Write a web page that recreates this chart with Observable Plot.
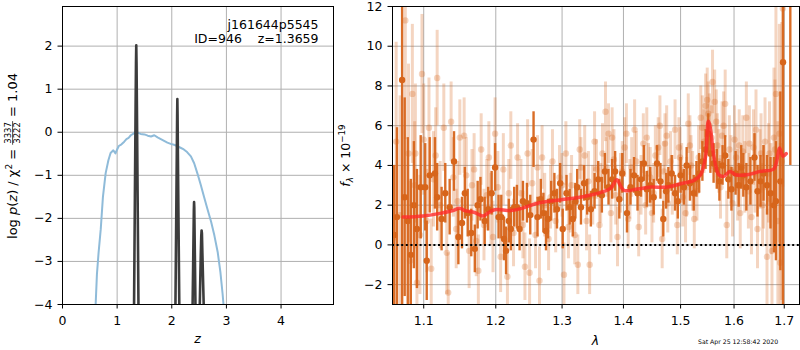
<!DOCTYPE html>
<html><head><meta charset="utf-8">
<script src="https://cdn.jsdelivr.net/npm/d3@7"></script>
<script src="https://cdn.jsdelivr.net/npm/@observablehq/plot@0.6"></script>
<style>
body{margin:0;background:#fff;}
#wrap{position:relative;width:800px;height:350px;overflow:hidden;background:#fff;}
#wrap svg{position:absolute;top:0;}
</style></head><body><div id="wrap"></div>
<script>
// ---------- left panel: redshift probability ----------
const zTicks = [0, 1, 2, 3, 4];
const logpTicks = [-4, -3, -2, -1, 0, 1, 2];
const curveZ = [0.60,0.63,0.66,0.70,0.74,0.79,0.84,0.88,0.93,0.97,1.00,1.03,1.08,1.13,1.17,1.21,1.25,1.30,1.34,1.38,1.43,1.50,1.56,1.62,1.68,1.74,1.80,1.86,1.92,1.98,2.04,2.10,2.16,2.22,2.28,2.35,2.41,2.47,2.53,2.59,2.65,2.72,2.78,2.84,2.89,2.93,2.96];
const curveV = [-4.2,-3.3,-2.8,-2.25,-1.5,-0.95,-0.65,-0.48,-0.42,-0.49,-0.40,-0.32,-0.28,-0.22,-0.16,-0.13,-0.07,-0.03,0.02,-0.01,-0.04,-0.05,-0.08,-0.10,-0.07,-0.12,-0.16,-0.20,-0.24,-0.27,-0.29,-0.32,-0.36,-0.40,-0.46,-0.56,-0.72,-0.96,-1.22,-1.50,-1.77,-2.08,-2.40,-2.78,-3.25,-3.75,-4.2];
const spike1Z = [1.308,1.325,1.338,1.345,1.350,1.355,1.362,1.375,1.392];
const spike1V = [-4.3,-1.5,0.6,1.6,2.02,1.6,0.6,-1.5,-4.3];
const spike2Z = [2.065,2.080,2.092,2.098,2.102,2.106,2.112,2.124,2.140];
const spike2V = [-4.3,-2.2,-0.5,0.4,0.77,0.4,-0.5,-2.2,-4.3];
const spike3Z = [2.378,2.390,2.398,2.404,2.408,2.412,2.418,2.426,2.436];
const spike3V = [-4.3,-3.2,-2.4,-1.8,-1.62,-1.75,-2.4,-3.2,-4.3];
const spike4Z = [2.508,2.522,2.532,2.540,2.546,2.552,2.560,2.572,2.590];
const spike4V = [-4.3,-3.4,-2.8,-2.4,-2.28,-2.35,-2.8,-3.4,-4.3];
const objName = "j161644p5545";
const objId = "946";
const zBest = "1.3659";
const chiNum = "3337", chiDen = "3222", chiRatio = "1.04";

// ---------- right panel: spectrum ----------
const lamTicks = [1.1, 1.2, 1.3, 1.4, 1.5, 1.6, 1.7];
const fluxTicks = [-2, 0, 2, 4, 6, 8, 10, 12];
const darkLam = [1.0615,1.0650,1.0717,1.0750,1.0790,1.0830,1.0870,1.0910,1.0960,1.1020,
  1.1040,1.1080,1.1150,1.1180,1.1240,1.1290,1.1350,1.1410,1.1470,1.1520,
  1.1560,1.1600,1.1650,1.1700,1.1740,1.1780,1.1840,1.1890,1.1940,1.1990,
  1.2040,1.2080,1.2120,1.2150,1.2190,1.2220,1.2270,1.2310,1.2350,1.2400,
  1.2460,1.2510,1.2560,1.2620,1.2670,1.2710,1.2750,1.2780,1.2830,1.2880,
  1.2920,1.2970,1.3010,1.3070,1.3120,1.3170,1.3210,1.3240,1.3300,1.3350,
  1.3400,1.3460,1.3520,1.3580,1.3640,1.3690,1.3750,1.3810,1.3860,1.3930,
  1.3980,1.4060,1.4120,1.4180,1.4240,1.4300,1.4350,1.4400,1.4460,1.4520,
  1.4580,1.4640,1.4690,1.4740,1.4780,1.4840,1.4900,1.4950,1.5000,1.5060,
  1.5110,1.5170,1.5240,1.5290,1.5340,1.5400,1.5460,1.5510,1.5550,1.5610,
  1.5670,1.5720,1.5780,1.5830,1.5890,1.5950,1.6030,1.6090,1.6140,1.6180,
  1.6240,1.6320,1.6400,1.6460,1.6520,1.6580,1.6650,1.6720,1.6790,1.6830,
  1.6920,1.6975,1.7125];
const darkFlux = [0.5,1.4,8.3,2.4,1.2,-0.5,2.0,0.8,2.9,2.9,
  -0.8,3.5,3.6,2.4,1.3,2.6,1.9,4.2,0.4,1.1,
  2.6,1.6,0.6,-0.2,2.0,2.3,1.2,1.8,2.6,3.9,
  1.4,1.4,0.3,-0.3,1.2,0.8,1.9,1.9,0.8,2.2,
  2.1,1.5,5.3,1.4,2.3,1.6,0.7,1.3,2.2,2.6,
  1.8,3.1,0.8,2.6,1.9,1.3,2.2,2.9,1.9,3.1,
  2.4,1.8,2.7,3.3,2.5,3.7,2.9,3.3,3.7,2.3,
  3.6,1.6,2.9,3.5,2.6,3.3,4.1,2.8,3.0,2.4,
  4.1,3.2,1.3,2.7,3.0,3.6,2.6,2.2,3.5,2.9,
  4.0,3.1,2.6,3.3,3.6,4.2,4.8,5.6,4.6,4.1,
  3.8,3.2,4.0,4.5,3.3,2.8,3.6,3.0,3.9,3.5,
  2.9,3.2,4.4,2.7,3.2,3.6,3.0,2.6,2.0,2.2,
  3.2,9.2,16];
const darkErr = [3.5,4.5,12,5.0,4.2,3.8,3.2,3.0,2.6,2.2,
  2.0,1.9,1.8,1.7,1.6,1.5,1.4,1.5,1.4,1.3,
  1.3,1.2,1.2,1.2,1.2,1.1,1.2,1.1,1.1,1.2,
  1.1,1.1,1.1,1.2,1.1,1.1,1.0,1.1,1.1,1.0,
  1.0,1.0,1.4,1.0,1.0,1.0,1.0,1.0,1.0,1.0,
  1.0,1.0,1.0,0.9,0.9,0.9,0.9,0.9,0.9,0.9,
  0.9,0.9,0.9,0.9,0.9,0.9,0.9,1.0,1.0,1.0,
  1.0,1.0,0.9,0.9,0.9,0.9,0.9,0.9,0.9,0.9,
  0.9,0.9,0.9,0.9,0.9,0.9,0.9,0.9,0.9,0.9,
  0.9,0.9,0.9,0.9,1.0,1.0,1.0,1.0,1.0,1.0,
  1.0,1.0,1.0,1.0,1.0,1.1,1.1,1.1,1.1,1.1,
  1.2,1.2,1.2,1.3,1.3,1.4,1.5,1.8,2.4,3.0,
  4.5,13,12];
const lightLam = [1.0640,1.0690,1.0758,1.0800,1.0820,1.0850,1.0890,1.0910,1.0950,1.0977,1.1000,1.1040,1.1070,1.1100,1.1130,1.1180,1.1220,1.1270,1.1310,1.1330,1.1370,1.1400,1.1440,1.1490,1.1550,1.1580,1.1620,1.1660,1.1720,1.1750,1.1790,1.1830,1.1870,1.1900,1.1960,1.1990,1.2030,1.2070,1.2110,1.2170,1.2220,1.2260,1.2320,1.2370,1.2430,1.2470,1.2500,1.2540,1.2590,1.2650,1.2690,1.2730,1.2790,1.2850,1.2900,1.2960,1.3030,1.3060,1.3100,1.3150,1.3200,1.3250,1.3300,1.3360,1.3390,1.3440,1.3490,1.3550,1.3600,1.3650,1.3700,1.3750,1.3790,1.3840,1.3900,1.3950,1.4020,1.4080,1.4140,1.4190,1.4260,1.4340,1.4380,1.4430,1.4490,1.4550,1.4630,1.4670,1.4720,1.4770,1.4820,1.4900,1.4940,1.4990,1.5040,1.5090,1.5140,1.5190,1.5250,1.5300,1.5370,1.5430,1.5460,1.5490,1.5530,1.5590,1.5630,1.5680,1.5740,1.5800,1.5830,1.5860,1.5910,1.5970,1.6010,1.6070,1.6120,1.6170,1.6240,1.6280,1.6340,1.6380,1.6430,1.6460,1.6510,1.6560,1.6610,1.6650,1.6700,1.6750,1.6790,1.6830,1.6870,1.6920,1.6950,1.6970];
const lightFlux = [5.2,1.5,11.3,4.6,-0.8,7.6,4.6,-1.9,0.5,8.6,5.3,1.2,5.9,-1.2,3.3,8.4,2.0,5.9,-0.4,-2.4,6.2,3.4,0.8,5.4,5.5,3.5,-0.3,3.0,0.2,-1.3,4.8,1.0,2.5,4.4,0.4,5.6,2.9,-0.6,3.8,-1.6,5.0,0.6,4.4,2.6,-1.1,4.6,-1.4,3.1,0.5,-1.8,4.4,2.0,0.3,4.2,1.2,3.4,-1.5,4.6,0.9,3.0,0.5,-1.0,3.9,4.5,1.2,-1.0,2.5,3.8,1.0,4.6,6.7,5.6,1.6,4.3,0.4,3.1,4.9,1.3,3.9,5.8,0.9,5.1,2.0,3.6,1.6,4.5,6.0,0.3,5.1,2.1,4.2,5.8,1.0,4.4,2.4,1.6,6.1,4.0,1.3,2.7,6.4,5.2,7.0,7.3,6.0,8.2,7.2,5.0,2.9,6.0,7.1,1.0,4.8,2.1,5.3,3.0,1.6,4.7,6.4,2.7,1.4,4.9,5.8,0.8,3.8,2.0,5.2,-0.6,4.6,-0.3,5.4,7.6,1.2,-0.9,4.2,11.9];
const lightErr = [5,6,6,4.5,4,3.5,3.5,3.2,3.0,3.0,2.8,2.6,2.5,2.5,2.4,2.4,2.2,2.2,2.1,2.0,2.0,2.0,2.0,1.9,1.9,1.9,1.9,1.8,1.8,1.8,1.8,1.8,1.8,1.8,1.8,1.8,1.8,1.8,1.8,1.8,1.7,1.7,1.7,1.7,1.7,1.7,1.7,1.7,1.7,1.7,1.6,1.6,1.6,1.6,1.6,1.6,1.6,1.6,1.6,1.5,1.5,1.5,1.5,1.5,1.5,1.5,1.5,1.5,1.5,1.5,1.5,1.5,1.5,1.5,1.5,1.5,1.5,1.5,1.5,1.5,1.5,1.5,1.5,1.5,1.5,1.5,1.5,1.5,1.5,1.5,1.5,1.5,1.5,1.5,1.5,1.5,1.5,1.5,1.5,1.5,1.6,1.6,1.6,1.6,1.6,1.6,1.6,1.6,1.6,1.7,1.7,1.7,1.7,1.7,1.7,1.8,1.8,1.8,1.8,1.9,1.9,1.9,2.0,2.0,2.0,2.1,2.2,2.4,2.6,3,3.5,4.5,5,6,7,9];
const light2Lam = [1.0880,1.1160,1.1460,1.1690,1.1930,1.2190,1.2400,1.2620,1.2820,1.3000,1.3130,1.3280,1.3420,1.3520,1.3620,1.3720,1.3810,1.3870,1.3980,1.4050,1.4110,1.4220,1.4300,1.4400,1.4460,1.4520,1.4600,1.4700,1.4750,1.4850,1.4970,1.5020,1.5110,1.5170,1.5220,1.5330,1.5400,1.5510,1.5570,1.5660,1.5710,1.5770,1.5940,1.6040,1.6100,1.6210,1.6300,1.6410,1.6530,1.6580,1.6680,1.6730,1.6810,1.6900];
const light2Flux = [3.0,4.5,2.2,3.8,1.8,2.6,1.0,3.9,2.4,3.0,2.1,4.8,3.2,5.2,2.6,3.9,5.4,2.5,3.7,5.6,2.8,4.2,3.0,5.4,3.4,2.6,4.9,3.7,5.5,3.0,4.9,3.6,2.9,5.0,3.2,4.4,5.9,6.6,5.4,6.2,4.2,5.5,3.8,4.4,5.0,3.4,5.1,3.6,4.6,2.9,3.6,2.3,4.8,5.6];
const light2Err = [3.2,2.4,2.0,1.8,1.8,1.7,1.7,1.6,1.6,1.6,1.5,1.5,1.5,1.5,1.5,1.5,1.5,1.5,1.5,1.5,1.5,1.5,1.5,1.5,1.5,1.5,1.5,1.5,1.5,1.5,1.5,1.5,1.5,1.5,1.5,1.6,1.6,1.6,1.6,1.6,1.6,1.7,1.7,1.7,1.8,1.8,1.9,2.0,2.0,2.1,2.5,2.8,3.5,5.5];
const modelLam = [1.0730,1.0993,1.1237,1.1396,1.1487,1.1556,1.1697,1.1815,1.1886,1.1982,1.2224,1.2397,1.2623,1.2983,1.3352,1.3624,1.3789,1.3889,1.3956,1.4012,1.4240,1.4469,1.4762,1.5001,1.5244,1.5367,1.5460,1.5510,1.5553,1.5615,1.5710,1.5805,1.5920,1.6030,1.6256,1.6518,1.6784,1.6852,1.6904,1.6973,1.7041];
const modelFlux = [1.40,1.46,1.60,1.73,1.85,1.73,1.63,1.46,1.60,1.77,1.73,1.85,2.10,2.27,2.44,2.64,2.86,3.28,2.94,2.74,2.81,2.91,2.91,3.08,3.25,3.53,4.46,6.23,5.81,4.46,3.53,3.45,3.70,3.53,3.53,3.70,3.82,4.29,4.88,4.46,4.59];
const dateStr = "Sat Apr 25 12:58:42 2020";

// ---------- build ----------
const curve = curveZ.map((z, i) => ({z, v: curveV[i]}));
const spikes = [];
[[spike1Z, spike1V], [spike2Z, spike2V], [spike3Z, spike3V], [spike4Z, spike4V]].forEach(([zs, vs], k) =>
  zs.forEach((z, i) => spikes.push({peak: k, z, v: vs[i]})));
const dark = darkLam.map((lam, i) => ({lam, f: darkFlux[i], e: darkErr[i]}));
const light = lightLam.map((lam, i) => ({lam, f: lightFlux[i], e: lightErr[i]}))
  .concat(light2Lam.map((lam, i) => ({lam, f: light2Flux[i], e: light2Err[i]})));
const model = modelLam.map((lam, i) => ({lam, f: modelFlux[i]}));

const FONT = "DejaVu Sans";
const FS = 12.5, FSS = 8.75;
const style = {fontFamily: FONT, fontSize: FS + "px", color: "black", background: "transparent", overflow: "visible"};
const GRID = {stroke: "#b0b0b0", strokeOpacity: 1, strokeWidth: 1};
const ORANGE = "#d7651b";
const intFmt = d3.format("d");
const wrap = document.getElementById("wrap");

const left = Plot.plot({
  width: 340, height: 350, marginLeft: 62, marginRight: 7, marginTop: 6, marginBottom: 46,
  style,
  x: {domain: [0, 4.96], label: null},
  y: {domain: [-4, 2.92], label: null},
  marks: [
    Plot.gridX(zTicks, GRID),
    Plot.gridY(logpTicks, GRID),
    Plot.line(curve, {x: "z", y: "v", stroke: "#8fbbd9", strokeWidth: 2, clip: true}),
    Plot.line(spikes, {x: "z", y: "v", z: "peak", stroke: "#3c3c3c", strokeWidth: 2.6, clip: true}),
    Plot.frame({stroke: "black", strokeWidth: 1}),
    Plot.axisX({ticks: zTicks, tickFormat: intFmt, tickSize: 4.5, tickPadding: 7, label: null}),
    Plot.axisY({ticks: logpTicks, tickFormat: intFmt, tickSize: 4.5, tickPadding: 5.5, label: null})
  ]
});
left.style.left = "0px";
wrap.appendChild(left);

const right = Plot.plot({
  width: 460, height: 350, marginLeft: 52, marginRight: 1, marginTop: 6, marginBottom: 46,
  style,
  x: {type: "log", domain: [1.0593, 1.7316], label: null},
  y: {domain: [-3, 12], label: null},
  marks: [
    Plot.gridX(lamTicks, GRID),
    Plot.gridY(fluxTicks, GRID),
    Plot.ruleX(light, {x: "lam", y1: d => d.f - d.e, y2: d => d.f + d.e, stroke: ORANGE, strokeOpacity: 0.27, strokeWidth: 3, clip: true}),
    Plot.dot(light, {x: "lam", y: "f", r: 3.2, fill: ORANGE, fillOpacity: 0.27, stroke: "none", clip: true}),
    Plot.ruleX(dark, {x: "lam", y1: d => d.f - d.e, y2: d => d.f + d.e, stroke: ORANGE, strokeOpacity: 0.95, strokeWidth: 2.4, clip: true}),
    Plot.dot(dark, {x: "lam", y: "f", r: 3.2, fill: ORANGE, stroke: "none", clip: true}),
    Plot.line(model, {x: "lam", y: "f", stroke: "#ff2a2a", strokeOpacity: 0.8, strokeWidth: 3.5, curve: "catmull-rom", clip: true}),
    Plot.ruleY([0], {stroke: "black", strokeWidth: 2, strokeDasharray: "2,2.6"}),
    Plot.frame({stroke: "black", strokeWidth: 1}),
    Plot.axisX({ticks: lamTicks, tickFormat: d3.format(".1f"), tickSize: 4.5, tickPadding: 7, label: null}),
    Plot.axisY({ticks: fluxTicks, tickFormat: intFmt, tickSize: 4.5, tickPadding: 5.5, label: null})
  ]
});
right.style.left = "340px";
wrap.appendChild(right);

// ---------- texts ----------
const L = d3.select(left), R = d3.select(right);
function txt(sel, size) {
  return sel.append("text").style("font-family", FONT).style("font-size", size + "px")
    .style("white-space", "pre").attr("text-anchor", "start").attr("fill", "black");
}
// annotation
txt(L, FS).attr("x", 318.5).attr("y", 28.5).attr("text-anchor", "end").text(objName);
txt(L, FS).attr("x", 318.5).attr("y", 42.5).attr("text-anchor", "end").text("ID=" + objId + "    z=" + zBest);
// x labels
txt(L, FS).attr("x", 197.5).attr("y", 343).attr("text-anchor", "middle").style("font-style", "italic").text("z");
txt(R, FS).attr("x", 255.5).attr("y", 345).attr("text-anchor", "middle").style("font-style", "italic").text("λ");
// date
txt(R, 6.2).attr("x", 358).attr("y", 344).text(dateStr);
// right y label
const ry = txt(R, FS).attr("transform", "translate(10,155.5) rotate(-90)").attr("text-anchor", "middle");
ry.append("tspan").style("font-style", "italic").text("f");
ry.append("tspan").style("font-size", FSS + "px").attr("dy", 3).style("font-style", "italic").text("λ");
ry.append("tspan").attr("dy", -3).text(" × 10");
ry.append("tspan").style("font-size", FSS + "px").attr("dy", -5).text("−19");

// left y label with stacked fraction, widths measured on a canvas with the same font
const ctx = document.createElement("canvas").getContext("2d");
function w(s, size, italic) { ctx.font = (italic ? "italic " : "") + size + "px '" + FONT + "'"; return ctx.measureText(s).width; }
const FL = 13;
const parts = [["log ", FL, false], ["p", FL, true], ["(", FL, false], ["z", FL, true], [") / χ", FL, false], ["2", 9, false], [" = ", FL, false]];
const L1 = d3.sum(parts, p => w(p[0], p[1], p[2]));
const FSF = 8.5;
const fw = Math.max(w(chiNum, FSF), w(chiDen, FSF)) + 2;
const tail = " = " + chiRatio;
const L3 = w(tail, FL);
const x0 = -(L1 + fw + L3) / 2;
const g = L.append("g").attr("transform", "translate(17,156) rotate(-90)");
const t1 = txt(g, FL).attr("x", x0);
parts.forEach(([s, size, it], i) => {
  const sp = t1.append("tspan").style("font-size", size + "px").text(s);
  if (it) sp.style("font-style", "italic");
  if (i === 5) sp.attr("dy", -5);
  if (i === 6) sp.attr("dy", 5);
});
txt(g, FSF).attr("x", x0 + L1 + fw / 2).attr("y", -6.2).attr("text-anchor", "middle").text(chiNum);
txt(g, FSF).attr("x", x0 + L1 + fw / 2).attr("y", 3.3).attr("text-anchor", "middle").text(chiDen);
g.append("line").attr("x1", x0 + L1).attr("x2", x0 + L1 + fw).attr("y1", -4.4).attr("y2", -4.4).attr("stroke", "black").attr("stroke-width", 0.7);
txt(g, FL).attr("x", x0 + L1 + fw).text(tail);
</script>
</body></html>
